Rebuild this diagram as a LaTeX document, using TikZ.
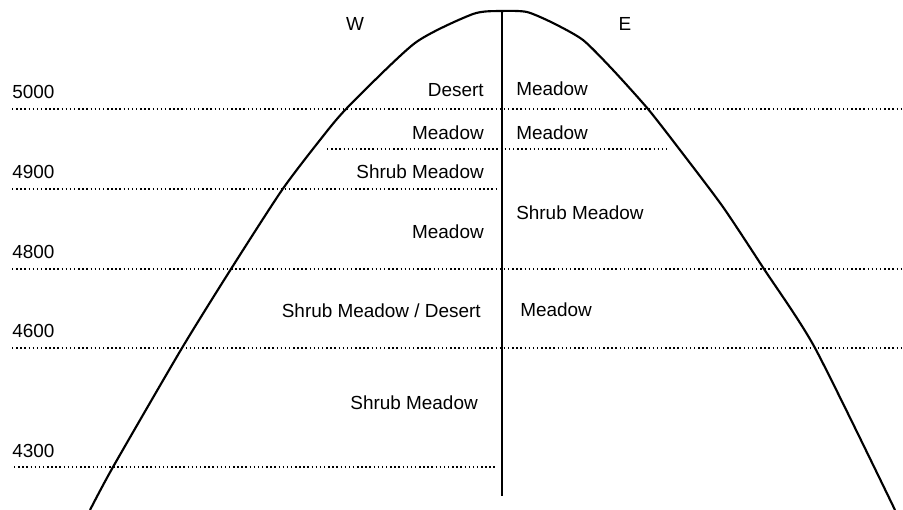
\documentclass[tikz,border=0pt]{standalone}
\usepackage{fontspec}
\setmainfont{Liberation Sans}
\begin{document}
\begin{tikzpicture}[x=0.75pt,y=-0.75pt,
  lbl/.style={inner sep=0pt,font=\fontsize{14.2pt}{17pt}\selectfont},
  lvl/.style={line width=1.3pt,dash pattern=on 1.1pt off 2pt},
  ridge/.style={line width=1.6pt,line join=round},
  divide/.style={line width=1.9pt}]
\useasboundingbox (0,0) rectangle (903,510);
% dotted level lines
\draw[lvl] (12,109) -- (903,109);
\draw[lvl] (327,149) -- (670,149);
\draw[lvl] (12,189) -- (497,189);
\draw[lvl] (12,269) -- (903,269);
\draw[lvl] (12,348) -- (903,348);
\draw[lvl] (14,467) -- (497,467);
% mountain profile
\draw[ridge] plot[smooth,tension=0.4] coordinates {(90,510) (113,467) (182,348) (231,269) (282,190) (320,140) (347,108) (415,43) (473,14) (502,11) (527,12) (553,23) (583,40) (613,70) (648,109) (680,150) (723,207) (764,269) (815,348) (895,510)};
% divide
\coordinate (top) at (502,11);
\coordinate (bot) at (502,496);
\draw[divide] (top) -- (bot);
% labels
\node[lbl] (w) at (355,24) {W};
\node[lbl] (e) at (625,24) {E};
\node[lbl,anchor=west] (l5000) at (12,92) {5000};
\node[lbl,anchor=west] (l4900) at (12,172) {4900};
\node[lbl,anchor=west] (l4800) at (12,252) {4800};
\node[lbl,anchor=west] (l4600) at (12,331) {4600};
\node[lbl,anchor=west] (l4300) at (12,451) {4300};
\node[lbl,anchor=east] (wdes) at (484,90) {Desert};
\node[lbl,anchor=west] (emea1) at (516,89) {Meadow};
\node[lbl,anchor=east] (wmea2) at (484,133) {Meadow};
\node[lbl,anchor=west] (emea2) at (516,133) {Meadow};
\node[lbl,anchor=east] (wshr1) at (484,172) {Shrub Meadow};
\node[lbl,anchor=west] (eshr) at (516,213) {Shrub Meadow};
\node[lbl,anchor=east] (wmea3) at (484,232) {Meadow};
\node[lbl,anchor=east] (wshrd) at (481,311) {Shrub Meadow / Desert};
\node[lbl,anchor=west] (emea3) at (520,310) {Meadow};
\node[lbl,anchor=east] (wshr2) at (478,403) {Shrub Meadow};
\end{tikzpicture}
\end{document}
